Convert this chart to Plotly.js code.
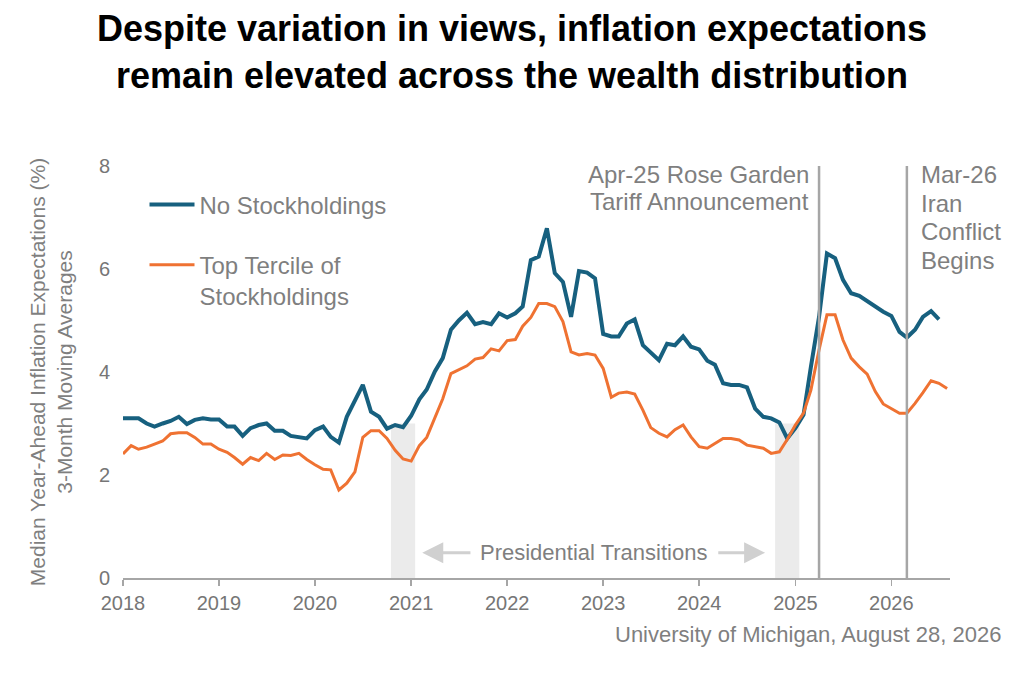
<!DOCTYPE html>
<html>
<head>
<meta charset="utf-8">
<script src="https://cdn.plot.ly/plotly-3.0.1.min.js"></script>
<style>
  html, body { margin: 0; padding: 0; background: #fff; }
  #chart { width: 1024px; height: 686px; }
</style>
</head>
<body>
<div id="chart"></div>
<script>
// monthly 3-month moving averages, Jan 2018 onward
var noStock = [
  3.10, 3.10, 3.10, 3.00, 2.94, 3.00, 3.05, 3.13, 2.99, 3.07, 3.10, 3.08,
  3.08, 2.94, 2.94, 2.76, 2.91, 2.97, 3.00, 2.86, 2.86, 2.76, 2.73, 2.71,
  2.87, 2.94, 2.74, 2.63, 3.13, 3.46, 3.75, 3.23, 3.13, 2.90, 2.97, 2.93,
  3.15, 3.47, 3.66, 4.01, 4.27, 4.82, 5.00, 5.15, 4.93, 4.97, 4.93, 5.14,
  5.06, 5.14, 5.27, 6.17, 6.24, 6.79, 5.92, 5.75, 5.07, 5.96, 5.93, 5.82,
  4.74, 4.69, 4.69, 4.94, 5.02, 4.52, 4.38, 4.23, 4.55, 4.52, 4.69, 4.49,
  4.44, 4.22, 4.14, 3.78, 3.75, 3.75, 3.70, 3.29, 3.13, 3.10, 3.02, 2.71,
  2.91, 3.17, 4.10, 5.07, 6.30, 6.21, 5.79, 5.53, 5.48, 5.37, 5.27, 5.17,
  5.09, 4.78, 4.67, 4.82, 5.07, 5.18, 5.02
];
var topTercile = [
  2.41, 2.57, 2.50, 2.54, 2.60, 2.66, 2.80, 2.82, 2.82, 2.73, 2.60, 2.60,
  2.50, 2.44, 2.34, 2.21, 2.34, 2.28, 2.42, 2.30, 2.39, 2.38, 2.42, 2.30,
  2.20, 2.11, 2.10, 1.71, 1.84, 2.06, 2.73, 2.86, 2.86, 2.71, 2.48, 2.31,
  2.27, 2.57, 2.73, 3.13, 3.48, 3.97, 4.05, 4.12, 4.25, 4.28, 4.45, 4.41,
  4.61, 4.63, 4.89, 5.06, 5.33, 5.33, 5.27, 4.98, 4.39, 4.33, 4.36, 4.33,
  4.07, 3.51, 3.59, 3.61, 3.57, 3.26, 2.92, 2.81, 2.74, 2.88, 2.97, 2.74,
  2.55, 2.52, 2.61, 2.71, 2.71, 2.68, 2.58, 2.55, 2.52, 2.42, 2.45, 2.69,
  2.97, 3.20, 3.65, 4.43, 5.11, 5.11, 4.62, 4.27, 4.10, 3.96, 3.62, 3.38,
  3.29, 3.20, 3.20, 3.39, 3.60, 3.83, 3.78, 3.68
];
var seriesNames = ["No Stockholdings", "Top Tercile of<br>Stockholdings"];
var transitions = [["2020-10-16", "2021-01-16"], ["2024-10-16", "2025-01-16"]];
var eventDates = ["2025-04-01", "2026-03-01"];
var yearTicks = ["2018", "2019", "2020", "2021", "2022", "2023", "2024", "2025", "2026"];

var blue = "#17607f";
var orange = "#ef7232";
var grey = "#7f7f7f";
var font = "Liberation Sans, Arial, sans-serif";

function months(n) {
  var out = [];
  for (var i = 0; i < n; i++) {
    var y = 2018 + Math.floor(i / 12);
    var m = (i % 12) + 1;
    out.push(y + "-" + (m < 10 ? "0" + m : m) + "-01");
  }
  return out;
}

var data = [
  {
    x: months(noStock.length), y: noStock, name: seriesNames[0],
    type: "scatter", mode: "lines", legendgroup: "a", legendrank: 1,
    line: {color: blue, width: 4}
  },
  {
    x: months(topTercile.length), y: topTercile, name: seriesNames[1],
    type: "scatter", mode: "lines", legendgroup: "b", legendrank: 2,
    line: {color: orange, width: 3}
  }
];

var shapes = [];
transitions.forEach(function(t) {
  shapes.push({type: "rect", xref: "x", yref: "y", x0: t[0], x1: t[1], y0: 0, y1: 3,
    fillcolor: "#ebebeb", line: {width: 0}, layer: "below"});
});
eventDates.forEach(function(d) {
  shapes.push({type: "line", xref: "x", yref: "y", x0: d, x1: d, y0: 0, y1: 8,
    line: {color: "#a6a6a6", width: 2.5}});
});

function note(text, x, y, anchor, shift, size) {
  return {text: text, x: x, y: y, xref: "x", yref: "y", xanchor: anchor, yanchor: "middle",
    xshift: shift, showarrow: false, font: {family: font, size: size || 24, color: grey}};
}

var annotations = [
  note("Apr-25 Rose Garden", eventDates[0], 7.84, "right", -8),
  note("Tariff Announcement", eventDates[0], 7.32, "right", -8),
  note("Mar-26", eventDates[1], 7.84, "left", 12),
  note("Iran", eventDates[1], 7.28, "left", 12),
  note("Conflict", eventDates[1], 6.73, "left", 12),
  note("Begins", eventDates[1], 6.17, "left", 12),
  note("Presidential Transitions", "2022-11-27", 0.49, "center", 0, 22),
  {x: "2021-02-12", y: 0.49, ax: "2021-08-20", ay: 0.49, axref: "x", ayref: "y",
    xref: "x", yref: "y", text: "", showarrow: true, arrowhead: 2, arrowsize: 1.4,
    arrowwidth: 3, arrowcolor: "#d0d0d0", standoff: 0},
  {x: "2024-09-08", y: 0.49, ax: "2024-03-08", ay: 0.49, axref: "x", ayref: "y",
    xref: "x", yref: "y", text: "", showarrow: true, arrowhead: 2, arrowsize: 1.4,
    arrowwidth: 3, arrowcolor: "#d0d0d0", standoff: 0},
  {text: "University of Michigan, August 28, 2026", xref: "paper", yref: "paper",
    x: 1.064, y: -0.136, xanchor: "right", yanchor: "middle", showarrow: false,
    font: {family: font, size: 22, color: grey}}
];

var layout = {
  width: 1024, height: 686,
  margin: {l: 123, r: 74, t: 166, b: 108},
  paper_bgcolor: "#fff", plot_bgcolor: "#fff",
  font: {family: font, color: grey},
  title: {
    text: "Despite variation in views, inflation expectations<br>remain elevated across the wealth distribution",
    font: {family: font, size: 36, color: "#000", weight: "bold"},
    x: 0.5, xref: "container", y: 0.94, yref: "container", yanchor: "middle"
  },
  showlegend: true,
  legend: {
    x: 0.026, y: 0.96, xanchor: "left", yanchor: "top",
    font: {family: font, size: 24, color: grey},
    bgcolor: "rgba(0,0,0,0)", valign: "top", itemwidth: 45,
    tracegroupgap: 26, traceorder: "grouped"
  },
  xaxis: {
    type: "date", range: ["2018-01-01", "2026-08-12"],
    tickvals: yearTicks.map(function(y) { return y + "-01-01"; }), ticktext: yearTicks,
    showgrid: false, zeroline: false, showline: true, linecolor: "#a6a6a6", linewidth: 1.5,
    ticks: "outside", ticklen: 6, tickcolor: "#a6a6a6", tickwidth: 1.5,
    tickfont: {family: font, size: 20, color: "#767676"}
  },
  yaxis: {
    range: [0, 8], dtick: 2, showgrid: false, zeroline: false, showline: false,
    ticks: "", ticklabelstandoff: 12,
    tickfont: {family: font, size: 20, color: "#767676"},
    title: {
      text: "Median Year-Ahead Inflation Expectations (%)<br>3-Month Moving Averages",
      font: {family: font, size: 21, color: grey}, standoff: 20
    }
  },
  shapes: shapes,
  annotations: annotations
};

Plotly.newPlot("chart", data, layout, {displayModeBar: false, staticPlot: true});
</script>
</body>
</html>
